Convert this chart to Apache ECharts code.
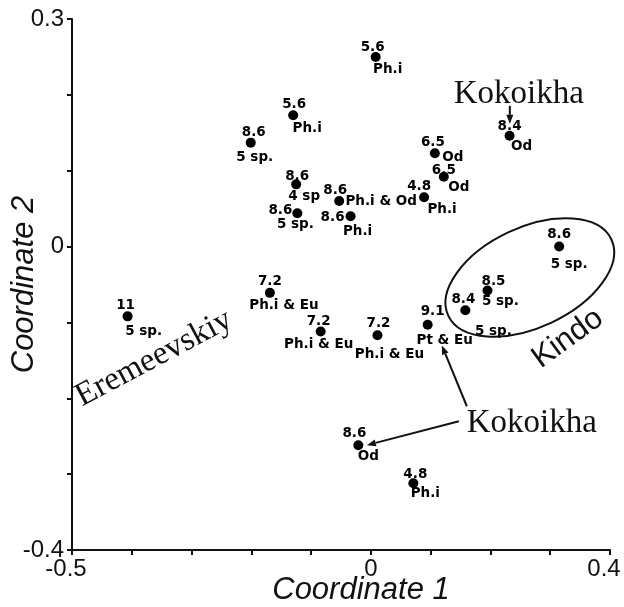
<!DOCTYPE html>
<html>
<head>
<meta charset="utf-8">
<script src="https://cdn.jsdelivr.net/npm/echarts@6/dist/echarts.min.js"></script>
<style>
html,body{margin:0;padding:0;background:#fff;}
#main{width:624px;height:607px;}
</style>
</head>
<body>
<div id="main"></div>
<script>
// ---- data ----
const xVals = [0.008, -0.130, -0.201, -0.125, -0.123, -0.053, -0.034, 0.089, 0.107, 0.122, 0.232, 0.315, 0.195, 0.158, 0.095, 0.011, -0.084, -0.169, -0.407, -0.021, 0.071];
const yVals = [0.250, 0.173, 0.137, 0.082, 0.044, 0.060, 0.040, 0.065, 0.123, 0.092, 0.146, 0.000, -0.058, -0.084, -0.103, -0.117, -0.112, -0.061, -0.092, -0.262, -0.312];
const numLabels = ['5.6','5.6','8.6','8.6','8.6','8.6','8.6','4.8','6.5','6.5','8.4','8.6','8.5','8.4','9.1','7.2','7.2','7.2','11','8.6','4.8'];
const spLabels = ['Ph.i','Ph.i','5 sp.','4 sp','5 sp.','Ph.i & Od','Ph.i','Ph.i','Od','Od','Od','5 sp.','5 sp.','5 sp.','Pt & Eu','Ph.i & Eu','Ph.i & Eu','Ph.i & Eu','5 sp.','Od','Ph.i'];
const xTickLabels = ['-0.5','0','0.4'];
const yTickLabels = ['0.3','0','-0.4'];
const xAxisName = 'Coordinate 1';
const yAxisName = 'Coordinate 2';
const annotationTexts = ['Kokoikha','Kokoikha','Eremeevskiy','Kindo'];

// ---- layout (label offsets in px, annotation anchors in data units) ----
const numOffset = [[-3,-9],[1,-11],[3,-10],[1,-8],[-17,-3],[-4,-11],[-18,1],[-5,-11],[-2,-11],[0,-6],[0,-9],[0,-12],[6,-9],[-2,-11],[5,-13],[1,-12],[-2,-10],[0,-11],[-2,-11],[-4,-12],[2,-9]];
const spOffset = [[12,13],[14,13],[4,15],[8,12],[-2,11],[42,0],[7,15],[18,12],[18,4],[15,11],[12,11],[10,18],[13,11],[28,21],[17,16],[12,19],[-2,13],[14,13],[16,15],[10,11],[12,10]];

function pickLabel(list, v){
  for (const s of list){ if (Math.abs(parseFloat(s) - v) < 1e-9) return s; }
  return '';
}

const chart = echarts.init(document.getElementById('main'), null, {renderer:'canvas'});
const labelFont = {fontFamily:'DejaVu Sans', fontWeight:'bold', fontSize:13.5, color:'#000'};
const tickFont = {fontFamily:'Liberation Sans', fontSize:24, color:'#111'};

chart.setOption({
  animation:false,
  backgroundColor:'#fff',
  grid:{left:72, right:14, top:19, bottom:57, containLabel:false, outerBoundsMode:'none'},
  xAxis:{
    type:'value', min:-0.5, max:0.4, interval:0.1,
    splitLine:{show:false},
    axisLine:{onZero:false, lineStyle:{color:'#111', width:2}},
    axisTick:{length:5, lineStyle:{color:'#111', width:2}},
    axisLabel:Object.assign({margin:7, formatter:v=>{
      const s = pickLabel(xTickLabels,v);
      if (!s) return '';
      return Math.abs(v) < 1e-9 ? '{c|'+s+'}' : '{s|'+s+'}';
    }, rich:{c:Object.assign({}, tickFont), s:Object.assign({padding:[0,12,0,0]}, tickFont)}}, tickFont),
    name:xAxisName, nameLocation:'middle', nameGap:25, nameMoveOverlap:false,
    nameTextStyle:{fontFamily:'Liberation Sans', fontStyle:'italic', fontSize:31, color:'#111', padding:[0,0,0,40]}
  },
  yAxis:{
    type:'value', min:-0.4, max:0.3, interval:0.1,
    splitLine:{show:false},
    axisLine:{onZero:false, lineStyle:{color:'#111', width:2}},
    axisTick:{length:5, lineStyle:{color:'#111', width:2}},
    axisLabel:Object.assign({margin:8, formatter:v=>pickLabel(yTickLabels,v)}, tickFont),
    name:yAxisName, nameLocation:'middle', nameGap:32, nameMoveOverlap:false,
    nameTextStyle:{fontFamily:'Liberation Sans', fontStyle:'italic', fontSize:31, color:'#111'}
  },
  series:[
    {
      type:'scatter', symbol:'circle', symbolSize:10, itemStyle:{color:'#000', opacity:1}, z:3,
      label:Object.assign({show:true, position:'inside', align:'center', verticalAlign:'middle'}, labelFont),
      data:xVals.map((x,i)=>({value:[x,yVals[i]], label:{formatter:numLabels[i], offset:numOffset[i]}}))
    },
    {
      type:'scatter', symbol:'circle', symbolSize:1, itemStyle:{color:'rgba(0,0,0,0)', opacity:1}, silent:true, z:3,
      label:Object.assign({show:true, position:'inside', align:'center', verticalAlign:'middle'}, labelFont),
      data:xVals.map((x,i)=>({value:[x,yVals[i]], label:{formatter:spLabels[i], offset:spOffset[i]}}))
    }
  ]
});

// ---- annotations (anchored in data coordinates) ----
const toPx = p => chart.convertToPixel({gridIndex:0}, p);
const annAnchors = [[0.2475,0.2013],[0.2692,-0.2329],[-0.3629,-0.1474],[0.3294,-0.1211]];
const annRot = [0, 0, 28, 36];
const annFont = ['33px "Liberation Serif"','33px "Liberation Serif"','33px "Liberation Serif"','31px "Liberation Sans"'];
const arrows = [
  [[0.2324,0.1855],[0.2324,0.1618]],
  [[0.1605,-0.2105],[0.1187,-0.1303]],
  [[0.1472,-0.2303],[-0.0067,-0.2618]]
];
const ellipseCenter = [0.2659,-0.0408];

const g = [];
annotationTexts.forEach((t,i)=>{
  const p = toPx(annAnchors[i]);
  g.push({type:'text', x:p[0], y:p[1], rotation:annRot[i]*Math.PI/180, z:10,
    style:{text:t, font:annFont[i], fill:'#111', align:'center', verticalAlign:'middle'}});
});
arrows.forEach(a=>{
  const p0 = toPx(a[0]), p1 = toPx(a[1]);
  const ang = Math.atan2(p1[1]-p0[1], p1[0]-p0[0]);
  const L = 9, W = 3.5;
  const bx = p1[0]-L*Math.cos(ang), by = p1[1]-L*Math.sin(ang);
  const px = -Math.sin(ang), py = Math.cos(ang);
  g.push({type:'line', z:10, shape:{x1:p0[0], y1:p0[1], x2:bx, y2:by}, style:{stroke:'#111', lineWidth:2}});
  g.push({type:'polygon', z:10, shape:{points:[[p1[0],p1[1]],[bx+W*px,by+W*py],[bx-W*px,by-W*py]]}, style:{fill:'#111'}});
});
const ec = toPx(ellipseCenter);
g.push({type:'ellipse', x:ec[0], y:ec[1], rotation:25*Math.PI/180, z:10,
  shape:{cx:0, cy:0, rx:90, ry:50}, style:{fill:'none', stroke:'#111', lineWidth:2}});

chart.setOption({graphic:g});
</script>
</body>
</html>
